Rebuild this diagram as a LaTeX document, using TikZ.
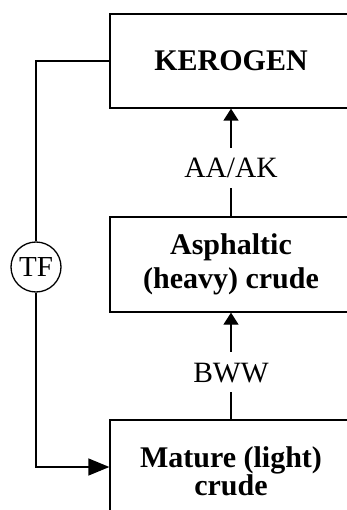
\documentclass[tikz,border=0pt]{standalone}
\usepackage{fontspec}
\setmainfont{Liberation Serif}
\usetikzlibrary{arrows.meta}
\tikzset{
  box/.style={draw, line width=1.3pt, minimum width=242pt, inner sep=0pt, align=center},
  lab/.style={inner xsep=2pt, inner ysep=10pt, text height=20pt, text depth=0pt, font=\fontsize{29.5}{34}\selectfont},
  conn/.style={line width=1.3pt},
  smalltip/.style={-{Triangle[length=12pt,width=15pt]}},
  bigtip/.style={-{Triangle[length=21pt,width=17pt]}}
}
\begin{document}
\begin{tikzpicture}[x=1pt,y=-1pt]
\useasboundingbox (0,0) rectangle (347,510);
\clip (0,0) rectangle (347,510);
\node[box, minimum height=94pt, font=\fontsize{30}{34}\selectfont\bfseries] (ker) at (231,61) {KEROGEN};
\node[box, minimum height=95pt, font=\fontsize{30}{34}\selectfont\bfseries] (asp) at (231,264.5) {Asphaltic\\(heavy) crude};
\node[box, minimum height=103pt, font=\fontsize{30}{28}\selectfont\bfseries] (mat) at (231,471.5) {Mature (light)\\crude};
\node[lab] (aa) at (231,168) {AA/AK};
\node[lab] (bww) at (231,372) {BWW};
\node[circle, draw, line width=1.3pt, minimum size=50pt, inner sep=0pt, font=\fontsize{29}{34}\selectfont] (tf) at (36,267) {TF};
\coordinate (c1) at (36,61);
\coordinate (c2) at (36,467);
\draw[conn] (ker.west) -- (c1) -- (tf.north);
\draw[conn, bigtip] (tf.south) -- (c2) -- (mat.west |- c2);
\draw[conn, smalltip] (aa.north) -- (ker.south);
\draw[conn] (aa.south) -- (asp.north);
\draw[conn, smalltip] (bww.north) -- (asp.south);
\draw[conn] (bww.south) -- (mat.north);
\end{tikzpicture}
\end{document}
